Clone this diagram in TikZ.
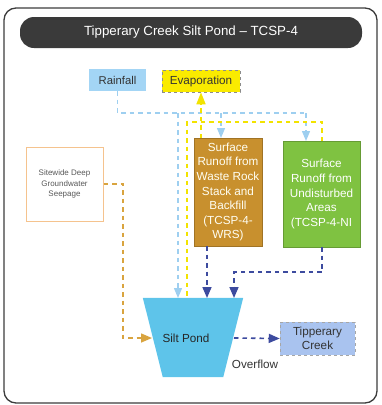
\documentclass[tikz,border=0pt]{standalone}
\usepackage{fontspec}
\setmainfont{Liberation Sans}
\usetikzlibrary{arrows.meta}
\definecolor{titlebg}{HTML}{3A3A3A}
\definecolor{framec}{HTML}{3C3C3C}
\definecolor{rainc}{HTML}{A3D5F5}
\definecolor{rainline}{HTML}{9ECFF0}
\definecolor{evapc}{HTML}{FAEB00}
\definecolor{yline}{HTML}{F2E300}
\definecolor{wrsc}{HTML}{C8902E}
\definecolor{nic}{HTML}{7FC241}
\definecolor{orc}{HTML}{D9A43F}
\definecolor{sitebd}{HTML}{F5C38E}
\definecolor{pondc}{HTML}{5EC4EA}
\definecolor{creekc}{HTML}{A9C3EF}
\definecolor{dblue}{HTML}{3D4B9F}
\definecolor{txt}{HTML}{333333}
\tikzset{
  boxtxt/.style={font=\fontsize{11.7}{14.6}\selectfont, align=center, inner sep=0pt},
  rainl/.style={draw=rainline, line width=1.3pt, dash pattern=on 4.5pt off 4pt},
  yl/.style={draw=yline, line width=1.6pt, dash pattern=on 4.5pt off 4pt},
  dbl/.style={draw=dblue, line width=1.6pt, dash pattern=on 4.5pt off 4pt},
  orl/.style={draw=orc, line width=1.5pt, dash pattern=on 4.5pt off 4pt},
  tipb/.style={-{Triangle[width=9pt,length=11pt]}},
  tipl/.style={-{Triangle[width=8pt,length=10pt]}},
}
\begin{document}
\begin{tikzpicture}[x=1pt,y=-1pt]
\useasboundingbox (0,0) rectangle (382,405);
% frame
\draw[framec, line width=1.3pt, rounded corners=12pt] (4,8) rectangle (377,403);
% title
\node[fill=titlebg, rounded corners=14pt, minimum width=342pt, minimum height=31pt, inner sep=0pt,
  text=white, font=\fontsize{13.3}{15}\selectfont] (title) at (191,32.5) {Tipperary Creek Silt Pond – TCSP-4};
% top boxes
\node[fill=rainc, minimum width=57pt, minimum height=22pt, inner sep=0pt, text=txt,
  font=\fontsize{11.3}{13}\selectfont] (rain) at (117.5,80) {Rainfall};
\node[fill=evapc, draw=black!45, dashed, line width=0.5pt, minimum width=78pt, minimum height=22pt, inner sep=0pt,
  text=txt, font=\fontsize{11.7}{13}\selectfont] (evap) at (201,81) {Evaporation};
% runoff boxes
\node[fill=wrsc, draw=wrsc!80!black, line width=0.5pt, minimum width=68pt, minimum height=108pt, boxtxt, text=white!95!yellow] (wrs) at (228,192)
  {Surface\\Runoff from\\Waste Rock\\Stack and\\Backfill\\(TCSP-4-\\WRS)};
\node[fill=nic, draw=nic!80!black, line width=0.5pt, minimum width=77pt, minimum height=106pt, boxtxt, text=white] (ni) at (321.5,194)
  {Surface\\Runoff from\\Undisturbed\\Areas\\(TCSP-4-NI};
% sitewide
\node[draw=sitebd, line width=1pt, fill=white, minimum width=77pt, minimum height=74pt, inner sep=0pt, align=center,
  text=black!65, font=\fontsize{8}{10.5}\selectfont] (site) at (64.5,184) {Sitewide Deep\\Groundwater\\Seepage};
% silt pond
\node[minimum width=100pt, minimum height=79pt, inner sep=0pt] (pond) at (193,337.5) {};
\fill[pondc] (pond.north west) -- (pond.north east) -- ([xshift=-20pt]pond.south east) -- ([xshift=20pt]pond.south west) -- cycle;
\node[text=black!85, font=\fontsize{11.7}{13}\selectfont, inner sep=0pt] (pondtxt) at (186,338) {Silt Pond};
% creek
\node[fill=creekc, draw=black!35, dashed, line width=0.5pt, minimum width=75pt, minimum height=33pt, inner sep=0pt,
  align=center, text=txt, font=\fontsize{11.7}{14}\selectfont] (creek) at (317.5,338.5) {Tipperary\\Creek};
\node[text=txt, font=\fontsize{11.7}{13}\selectfont, inner sep=0pt] (ovl) at (255,364) {Overflow};
% coordinates
\coordinate (ra) at (117.5,113);
\coordinate (rb) at (306,113);
\coordinate (r1) at (178,113);
\coordinate (r2) at (221,113);
\coordinate (p1) at (178,298);
\coordinate (w1) at (221,138);
\coordinate (n1) at (306,141);
\coordinate (ya) at (187,122);
\coordinate (yb) at (322,122);
\coordinate (yc) at (322,141);
\coordinate (yd) at (187,298);
\coordinate (ye) at (201,138);
\coordinate (o1) at (123,184);
\coordinate (o2) at (123,338);
\coordinate (o3) at (152,338);
\coordinate (b1) at (207,246);
\coordinate (b2) at (207,298);
\coordinate (c1) at (322,247);
\coordinate (c2) at (322,272);
\coordinate (c3) at (234,272);
\coordinate (c4) at (234,298);
\coordinate (f1) at (234,338);
% rainfall lines
\draw[rainl] (rain.south) -- (ra) -- (rb);
\draw[rainl, tipl] (r1) -- (p1);
\draw[rainl, tipl] (r2) -- (w1);
\draw[rainl, tipl] (rb) -- (n1);
% evaporation lines
\draw[yl] (yc) -- (yb) -- (ya) -- (yd);
\draw[yl, -{Triangle[width=9pt,length=12pt]}] (ye) -- (evap.south);
% groundwater
\draw[orl, tipb] (site.east) -- (o1) -- (o2) -- (o3);
% runoff to pond
\draw[dbl, tipb] (b1) -- (b2);
\draw[dbl, tipb] (c1) -- (c2) -- (c3) -- (c4);
% overflow
\draw[dbl, tipb] (f1) -- (creek.west);
\end{tikzpicture}
\end{document}
